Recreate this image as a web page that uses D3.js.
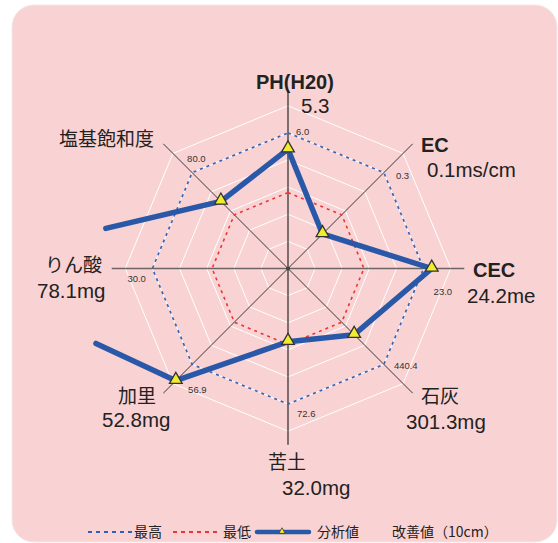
<!DOCTYPE html>
<html><head><meta charset="utf-8">
<script src="https://cdn.jsdelivr.net/npm/d3@7/dist/d3.min.js"></script>
<style>
html,body{margin:0;padding:0;background:#fff;}
svg{display:block;}
text{font-family:"Noto Sans CJK JP","Noto Sans",sans-serif;fill:#222;}
text.lat{font-family:"Liberation Sans","Arimo",Arial,sans-serif;}
</style></head>
<body>
<svg id="c" width="558" height="543"></svg>
<script>
// ---- data ----
const axes = ["PH(H20)", "EC", "CEC", "石灰", "苦土", "加里", "りん酸", "塩基飽和度"];
const boldAxes = ["PH(H20)", "EC", "CEC"];
const valueLabels = ["5.3", "0.1ms/cm", "24.2me", "301.3mg", "32.0mg", "52.8mg", "78.1mg", ""];
const maxLabels = ["6.0", "0.3", "23.0", "440.4", "72.6", "56.9", "30.0", "80.0"];
// plotted scores (max line = 100)
const maxScore = [100, 100, 100, 100, 100, 100, 100, 100];
const minScore = [56, 56, 56, 56, 56, 56, 56, 56];
const analysisScore = [88, 36, 106, 69, 54, 117, 260, 70];
const ringTicks = [20, 40, 60, 80, 100, 120];
const legendLabels = ["最高", "最低", "分析値", "改善値（10cm）"];

// ---- layout ----
const W = 558, H = 543, cx = 288, cy = 268.5;
const svg = d3.select("#c");
const r = d3.scaleLinear().domain([0, 100]).range([0, 135.6]);
const axisMax = 130;
const n = axes.length;
const ang = i => i * 2 * Math.PI / n; // 0 = up, clockwise
const px = (i, v) => cx + r(v) * Math.sin(ang(i));
const py = (i, v) => cy - r(v) * Math.cos(ang(i));

svg.append("rect").attr("x", 12).attr("y", 5).attr("width", 545).attr("height", 537)
  .attr("rx", 22).attr("fill", "#f9d3d3").attr("stroke", "#f3e6e6").attr("stroke-width", 1);

const g = svg.append("g").attr("transform", `translate(${cx},${cy})`);
const radial = d3.lineRadial().angle((d, i) => ang(i)).radius(d => r(d)).curve(d3.curveLinearClosed);

// white rings
ringTicks.forEach(t => {
  g.append("path").attr("d", radial(d3.range(n).map(() => t)))
    .attr("fill", "none").attr("stroke", "#ffffff").attr("stroke-width", 1);
});

// axes
d3.range(n).forEach(i => {
  const horiz = (i === 2 || i === 6);
  g.append("line").attr("x1", 0).attr("y1", 0)
    .attr("x2", r(axisMax) * Math.sin(ang(i))).attr("y2", -r(axisMax) * Math.cos(ang(i)))
    .attr("stroke", horiz ? "#6e6464" : "#3a3535").attr("stroke-width", horiz ? 1.6 : (i % 4 === 0 ? 1.3 : 1));
});
g.append("circle").attr("r", 2).attr("fill", "#444");

// max / min dotted
g.append("path").attr("d", radial(maxScore)).attr("fill", "none")
  .attr("stroke", "#2f62b8").attr("stroke-width", 1.6).attr("stroke-dasharray", "3,4");
g.append("path").attr("d", radial(minScore)).attr("fill", "none")
  .attr("stroke", "#ee3434").attr("stroke-width", 1.6).attr("stroke-dasharray", "3,4");

// analysis line, clipped near the left edge (segments toward the off-scale point)
const pts = analysisScore.map((v, i) => [px(i, v), py(i, v)]);
const clipA = [105.7, 230], clipB = [96, 343]; // clip boundary (layout)
function cut(p, q) {
  const dx = clipB[0] - clipA[0], dy = clipB[1] - clipA[1];
  const ex = q[0] - p[0], ey = q[1] - p[1];
  const den = ex * dy - ey * dx;
  const t = ((clipA[0] - p[0]) * dy - (clipA[1] - p[1]) * dx) / den;
  return [p[0] + ex * t, p[1] + ey * t];
}
const off = 6; // index of off-scale point
const order = [7, 0, 1, 2, 3, 4, 5];
const poly = [cut(pts[7], pts[off])].concat(order.map(i => pts[i])).concat([cut(pts[5], pts[off])]);
svg.append("path").attr("d", d3.line()(poly)).attr("fill", "none")
  .attr("stroke", "#2a58a8").attr("stroke-width", 5.5)
  .attr("stroke-linejoin", "round").attr("stroke-linecap", "round");

const tri = d3.symbol().type(d3.symbolTriangle).size(70);
order.forEach(i => {
  svg.append("path").attr("d", tri()).attr("transform", `translate(${pts[i][0]},${pts[i][1] - 1})`)
    .attr("fill", "#f2ec2e").attr("stroke", "#333").attr("stroke-width", 1.3);
});

// max tick labels (offsets = layout)
const tickOff = [[8, 2], [12, 6], [10, 26], [10, 5], [9, 13], [-4, 29], [-25, 13], [-5, -11]];
maxLabels.forEach((t, i) => {
  svg.append("text").attr("class", "lat").attr("x", px(i, 100) + tickOff[i][0]).attr("y", py(i, 100) + tickOff[i][1])
    .attr("font-size", 9.5).style("fill", "#333").text(t);
});

// axis labels (layout positions)
const namePos = [[256, 89], [421, 152], [473, 277], [421, 403], [268, 469], [118, 403], [45, 272], [59, 146]];
const valPos = [[301, 113], [427, 177], [467, 303], [406, 429], [282, 495], [102, 427], [37, 298], [0, 0]];
axes.forEach((a, i) => {
  const b = boldAxes.includes(a);
  svg.append("text").attr("class", b ? "lat" : null).attr("x", namePos[i][0]).attr("y", namePos[i][1])
    .attr("font-size", b ? 20 : 19).attr("font-weight", b ? "bold" : "normal").text(a);
  if (valueLabels[i]) svg.append("text").attr("class", "lat").attr("x", valPos[i][0]).attr("y", valPos[i][1])
    .attr("font-size", 20.5).text(valueLabels[i]);
});

// legend
const ly = 532, lb = 537;
const L = svg.append("g");
L.append("line").attr("x1", 88).attr("x2", 133).attr("y1", ly).attr("y2", ly)
  .attr("stroke", "#2f62b8").attr("stroke-width", 2).attr("stroke-dasharray", "4,4");
L.append("text").attr("x", 134).attr("y", lb).attr("font-size", 14).text(legendLabels[0]);
L.append("line").attr("x1", 173).attr("x2", 218).attr("y1", ly).attr("y2", ly)
  .attr("stroke", "#ee3434").attr("stroke-width", 2).attr("stroke-dasharray", "4,4");
L.append("text").attr("x", 223).attr("y", lb).attr("font-size", 14).text(legendLabels[1]);
L.append("line").attr("x1", 257).attr("x2", 309).attr("y1", ly).attr("y2", ly)
  .attr("stroke", "#2a58a8").attr("stroke-width", 4.5).attr("stroke-linecap", "round");
L.append("path").attr("d", d3.symbol().type(d3.symbolTriangle).size(18)()).attr("transform", `translate(282,${ly - 0.5})`)
  .attr("fill", "#f2ec2e").attr("stroke", "#333").attr("stroke-width", 0.8);
L.append("text").attr("x", 317).attr("y", lb).attr("font-size", 14).text(legendLabels[2]);
L.append("text").attr("x", 392).attr("y", lb).attr("font-size", 14).text(legendLabels[3]);
</script>
</body></html>
